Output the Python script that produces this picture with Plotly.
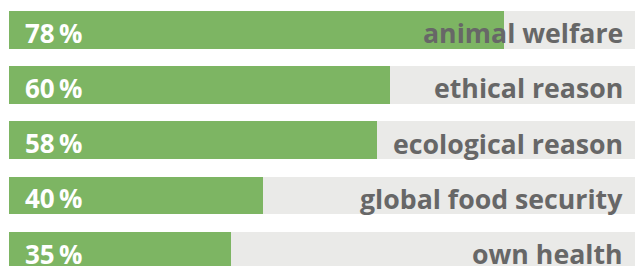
import plotly.graph_objects as go

categories = ["animal welfare", "ethical reason", "ecological reason", "global food security", "own health"]
values = [78, 60, 58, 40, 35]
track_max = 100
pct_labels = [f"{v}\u2009%" for v in values]

green = "#7DB563"
track = "#EAEAE8"
label_gray = "#676767"

y = list(range(len(categories)))

fig = go.Figure()
fig.add_trace(go.Bar(x=[track_max] * len(categories), y=y, orientation="h",
                     marker=dict(color=track, line=dict(width=0)), width=0.68,
                     hoverinfo="skip", showlegend=False))
fig.add_trace(go.Bar(x=values, y=y, orientation="h",
                     marker=dict(color=green, line=dict(width=0)), width=0.68,
                     showlegend=False))

for i, (cat, pl) in enumerate(zip(categories, pct_labels)):
    fig.add_annotation(x=0, y=i, text=pl, showarrow=False, xanchor="left", yanchor="middle",
                       xshift=14, yshift=-3,
                       font=dict(family="Open Sans", size=26, color="white", weight=700))
    fig.add_annotation(x=1, xref="paper", y=i, text=cat, showarrow=False, xanchor="right",
                       yanchor="middle", xshift=-26, yshift=-3,
                       font=dict(family="Open Sans", size=26.7, color=label_gray, weight=700))

fig.update_layout(
    width=643, height=266,
    margin=dict(l=0, r=0, t=0, b=0),
    paper_bgcolor="white", plot_bgcolor="white",
    barmode="overlay", bargap=0,
    xaxis=dict(range=[-0.157, 101.1], visible=False, fixedrange=True),
    yaxis=dict(range=[4.425, -0.394], visible=False, fixedrange=True),
)

fig.write_html("out.html")
